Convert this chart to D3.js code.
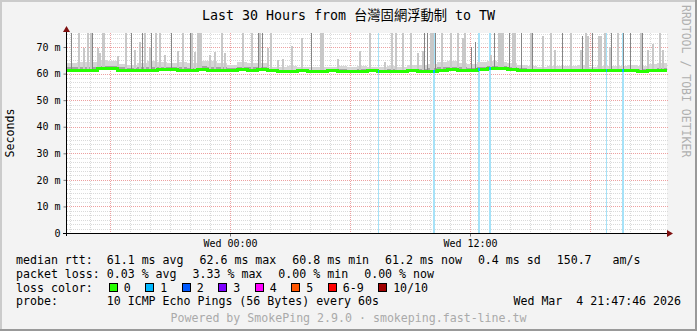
<!DOCTYPE html>
<html>
<head>
<meta charset="utf-8">
<script src="https://cdn.jsdelivr.net/npm/d3@7"></script>
<style>
body { margin: 0; background: #f3f3f3; }
svg { display: block; }
text { font-family: "DejaVu Sans Mono", "Noto Sans CJK TC", monospace; white-space: pre; }
</style>
</head>
<body>
<svg id="chart"></svg>
<script>
const W = 697, H = 331;
const plotLeft = 67, plotRight = 667, plotTop = 33, plotBottom = 233;

// time window (30 hours), steps are 30 minutes for the band data
const startTime = new Date(2026, 2, 3, 15, 51);
const endTime = new Date(2026, 2, 4, 21, 51);
const wedMidnight = new Date(2026, 2, 4, 0, 0);
const bandStepMin = 30;

// median rtt in ms, one value per 30 min
const medianRtt = [61.2,61.2,61.3,62.0,62.1,61.3,61.1,61.2,61.2,61.4,
                   61.6,61.3,61.1,61.7,61.2,61.3,61.2,61.4,61.3,61.4,
                   61.0,60.9,60.9,61.0,60.9,60.9,61.0,60.9,60.9,60.9,
                   61.0,60.9,60.9,60.9,61.0,60.9,60.9,61.0,61.4,61.3,
                   61.3,61.4,61.9,62.0,61.6,61.3,61.1,61.0,61.1,61.0,
                   61.0,61.1,61.0,61.1,61.0,61.1,61.0,60.9,61.0,61.1];
// upper edge of the light smoke
const smokeHigh = [63.8,64.2,64.5,65.0,64.8,63.6,63.4,63.8,64.6,64.2,
                   64.0,64.5,63.8,64.6,64.8,63.8,63.4,64.4,64.0,63.8,
                   62.6,62.4,62.8,62.5,62.3,62.6,62.4,62.7,62.5,62.8,
                   62.4,62.6,62.9,62.5,63.2,63.4,63.6,64.2,64.6,64.0,
                   63.6,64.2,64.8,64.5,63.8,63.2,62.8,62.6,63.0,62.7,
                   62.9,63.2,62.6,62.8,63.0,62.7,63.4,63.0,63.5,63.8];
// upper edge of the dark smoke
const smokeMid = [62.3,62.4,62.6,63.0,63.0,62.3,62.1,62.3,62.6,62.5,
                  62.6,62.6,62.2,62.8,62.5,62.4,62.1,62.6,62.4,62.4,
                  61.5,61.4,61.5,61.5,61.4,61.5,61.4,61.6,61.5,61.6,
                  61.5,61.5,61.6,61.5,61.8,61.9,62.0,62.3,62.6,62.3,
                  62.2,62.5,62.9,62.9,62.4,62.0,61.7,61.6,61.8,61.6,
                  61.7,61.8,61.6,61.7,61.8,61.6,61.9,61.7,61.9,62.0];

// smoke spikes: [hours from Wed 00:00, top in ms, dark]
const spikes = [
  [-7.95,76,1],[-7.62,76,0],[-7.37,69.6,0],[-7.14,76,0],[-6.99,76,0],[-6.9,76,1],
  [-6.65,69.6,0],[-6.55,67.7,0],[-6.4,76,0],[-6.35,76,0],[-5.65,66.6,0],[-5.24,76,0],
  [-4.95,76,1],[-4.82,69,0],[-4.54,72,0],[-4.4,76,1],[-4.29,76,0],[-4.04,69.6,0],
  [-3.95,76,1],[-3.74,76,0],[-3.54,76,0],[-3.32,67,0],[-2.95,76,1],[-2.65,68.5,0],
  [-2.4,76,0],[-2.02,76,1],[-1.94,76,0],[-1.82,68,0],[-1.65,76,0],[-1.55,76,0],
  [-1.48,76,0],[-1.07,67,0],[-0.82,68,0],[-0.44,76,0],[-0.32,67.7,0],[0.6,76,0],
  [1.05,76,0],[1.4,76,1],[1.47,76,0],[1.6,76,1],[1.85,69.6,0],[2.02,76,0],
  [2.35,65,0],[2.6,65.5,0],[3.05,70.4,0],[3.55,73.4,0],[4.05,76,1],[4.5,76,0],
  [4.6,76,0],[5.35,65.5,0],[6.44,68.5,0],[6.97,76,0],[7.69,64.5,0],[8.05,76,0],
  [8.27,76,0],[8.6,76,0],[9.02,76,0],[9.35,67.7,0],[9.6,68.5,0],[9.69,76,1],
  [9.85,76,1],[9.98,76,0],[10.08,76,0],[10.27,76,1],[10.57,76,0],[11.02,76,0],
  [11.35,76,0],[11.6,73.4,0],[11.69,76,0],[12.03,70,1],[12.25,72,1],[13.0,67,0],
  [13.19,76,1],[13.4,76,0],[13.5,76,0],[13.6,76,0],[13.94,76,1],[14.1,76,0],
  [14.19,76,0],[14.57,76,1],[15.02,76,0],[15.1,76,1],[15.6,74,0],[16.02,76,0],
  [16.19,69,0],[16.6,76,1],[17.02,76,0],[17.5,69,0],[17.6,74,1],[17.77,76,0],
  [17.85,74,0],[18.1,76,1],[18.4,74,0],[18.52,74,0],[18.69,76,0],[18.94,70,0],
  [19.07,76,1],[19.35,76,0],[19.65,76,1],[20.02,76,1],[20.5,76,0],[20.58,76,1],
  [20.85,69,0],[21.1,71,0],[21.45,76,0],[21.6,69,0]
];

// steps with 1/10 packet loss
const lossHours = [7.4, 10.17, 12.38, 12.93, 18.82, 19.6];
const lossSteps = [1, 2, 2, 2, 1, 2];

const yTicks = [0, 10, 20, 30, 40, 50, 60, 70];
const xLabelHours = [0, 12];

const rttStats = [61.1, 62.6, 60.8, 61.2];
const lossStats = [0.03, 3.33, 0.00, 0.00];
const statNames = ["avg", "max", "min", "now"];
const rttSd = 0.4, rttAms = 150.7;

const lossLabels = ["0", "1", "2", "3", "4", "5", "6-9", "10/10"];
const lossColors = ["#26ff00", "#00b8ff", "#0059ff", "#7e00ff", "#ff00ff", "#ff5500", "#ff0000", "#a10000"];

const hourToDate = h => new Date(wedMidnight.getTime() + h * 3600e3);
const stepDate = i => new Date(startTime.getTime() + i * bandStepMin * 60e3);

const x = d3.scaleTime().domain([startTime, endTime]).range([plotLeft, plotRight]);
const y = d3.scaleLinear().domain([0, 75.28]).range([plotBottom, plotTop]);

const svg = d3.select("#chart").attr("width", W).attr("height", H);
svg.append("rect").attr("width", W).attr("height", H).attr("fill", "#f3f3f3");
svg.append("rect").attr("width", W).attr("height", 2).attr("fill", "#cbcbcb");
svg.append("rect").attr("width", 2).attr("height", H).attr("fill", "#cbcbcb");
svg.append("rect").attr("y", H - 2).attr("width", W).attr("height", 2).attr("fill", "#999");
svg.append("rect").attr("x", W - 2).attr("width", 2).attr("height", H).attr("fill", "#999");

svg.append("defs").append("clipPath").attr("id", "plotclip")
  .append("rect").attr("x", plotLeft).attr("y", plotTop)
  .attr("width", plotRight - plotLeft).attr("height", plotBottom - plotTop);

svg.append("rect").attr("x", plotLeft).attr("y", plotTop)
  .attr("width", plotRight - plotLeft).attr("height", plotBottom - plotTop).attr("fill", "#fff");

// grid
const grid = svg.append("g").attr("shape-rendering", "crispEdges").attr("stroke-dasharray", "1,1");
const minorY = d3.range(0, 75.28, 10 / 6).filter(v => Math.abs(v / 10 - Math.round(v / 10)) > 0.01);
grid.selectAll(".hmin").data(minorY).enter().append("line")
  .attr("x1", plotLeft).attr("x2", plotRight + 1)
  .attr("y1", d => Math.round(y(d)) + 0.5).attr("y2", d => Math.round(y(d)) + 0.5)
  .attr("stroke", "#dadada");
const hours = d3.timeHour.range(startTime, endTime);
grid.selectAll(".vmin").data(hours.filter(d => d.getHours() % 6 !== 0)).enter().append("line")
  .attr("x1", d => Math.round(x(d)) + 0.5).attr("x2", d => Math.round(x(d)) + 0.5)
  .attr("y1", plotTop).attr("y2", plotBottom)
  .attr("stroke", "#dadada");
grid.selectAll(".hmaj").data(yTicks.slice(1)).enter().append("line")
  .attr("x1", plotLeft).attr("x2", plotRight + 1)
  .attr("y1", d => Math.round(y(d)) + 0.5).attr("y2", d => Math.round(y(d)) + 0.5)
  .attr("stroke", "#eda0a0");
grid.selectAll(".vmaj").data(hours.filter(d => d.getHours() % 6 === 0)).enter().append("line")
  .attr("x1", d => Math.round(x(d)) + 0.5).attr("x2", d => Math.round(x(d)) + 0.5)
  .attr("y1", plotTop).attr("y2", plotBottom)
  .attr("stroke", "#eda0a0");

const g = svg.append("g").attr("clip-path", "url(#plotclip)").attr("shape-rendering", "crispEdges");

// loss bars
g.selectAll(".lossbar").data(lossHours).enter().append("rect")
  .attr("x", d => Math.round(x(hourToDate(d))))
  .attr("width", (d, i) => lossSteps[i])
  .attr("y", plotTop).attr("height", plotBottom - plotTop)
  .attr("fill", "#a6e2f8");

// smoke band
const band = medianRtt.map((m, i) => ({t: stepDate(i), m: m, hi: smokeHigh[i], mid: smokeMid[i]}));
band.push(Object.assign({}, band[band.length - 1], {t: endTime}));
g.append("path").datum(band)
  .attr("d", d3.area().x(d => x(d.t)).y0(d => y(d.m)).y1(d => y(d.hi)).curve(d3.curveStepAfter))
  .attr("fill", "#d6d6d6");
g.append("path").datum(band)
  .attr("d", d3.area().x(d => x(d.t)).y0(d => y(d.m)).y1(d => y(d.mid)).curve(d3.curveStepAfter))
  .attr("fill", "#a4a4a4");

// spikes
g.selectAll(".spike").data(spikes).enter().append("rect")
  .attr("x", d => Math.round(x(hourToDate(d[0]))))
  .attr("width", d => d[2] ? 1 : 2)
  .attr("y", d => y(d[1]))
  .attr("height", d => y(61.5) - y(d[1]))
  .attr("fill", d => d[2] ? "#858585" : "#c8c8c8");

// median line
g.append("path").datum(band)
  .attr("d", d3.line().x(d => x(d.t)).y(d => y(d.m)).curve(d3.curveStepAfter))
  .attr("fill", "none").attr("stroke", lossColors[0]).attr("stroke-width", 3);
// median colored by loss
const medianAt = h => medianRtt[Math.min(medianRtt.length - 1,
  Math.floor((hourToDate(h) - startTime) / (bandStepMin * 60e3)))];
g.selectAll(".lossmed").data(lossHours).enter().append("rect")
  .attr("x", d => Math.round(x(hourToDate(d))))
  .attr("width", (d, i) => lossSteps[i])
  .attr("y", d => y(medianAt(d)) - 1.5).attr("height", 3)
  .attr("fill", lossColors[1]);

// axes
const yAxis = svg.append("g").attr("transform", `translate(${plotLeft - 0.5},0)`)
  .call(d3.axisLeft(y).tickValues(yTicks).tickSize(3).tickPadding(3)
    .tickFormat(d => d === 0 ? "0" : d + " m"));
yAxis.select(".domain").remove();
yAxis.selectAll("line").attr("stroke", "#777");
yAxis.selectAll("text").attr("font-size", 10).attr("font-family", "DejaVu Sans Mono").attr("fill", "#000");

const xAxis = svg.append("g").attr("transform", `translate(0,${plotBottom + 0.5})`)
  .call(d3.axisBottom(x).tickValues(xLabelHours.map(hourToDate)).tickSize(3).tickPadding(3)
    .tickFormat(d3.timeFormat("%a %H:%M")));
xAxis.select(".domain").remove();
xAxis.selectAll("line").attr("stroke", "#777");
xAxis.selectAll("text").attr("font-size", 10).attr("font-family", "DejaVu Sans Mono").attr("fill", "#000");

svg.append("line").attr("x1", plotLeft - 4).attr("x2", plotRight + 3)
  .attr("y1", plotBottom + 0.5).attr("y2", plotBottom + 0.5).attr("stroke", "#000");
svg.append("line").attr("x1", plotLeft - 0.5).attr("x2", plotLeft - 0.5)
  .attr("y1", plotBottom + 3).attr("y2", plotTop - 3).attr("stroke", "#000");
svg.append("path").attr("d", `M${plotRight},${plotBottom - 3} L${plotRight + 6},${plotBottom + 0.5} L${plotRight},${plotBottom + 4}Z`)
  .attr("fill", "#7f1010");
svg.append("path").attr("d", `M${plotLeft - 4},${plotTop - 1} L${plotLeft - 0.5},${plotTop - 7} L${plotLeft + 3},${plotTop - 1}Z`)
  .attr("fill", "#7f1010");

// titles
svg.append("text").attr("x", 348.5).attr("y", 20).attr("text-anchor", "middle")
  .attr("font-size", 13.3).attr("fill", "#000")
  .text("Last 30 Hours from 台灣固網浮動制 to TW");
svg.append("text").attr("transform", "translate(14,133) rotate(-90)").attr("text-anchor", "middle")
  .attr("font-size", 11.6).attr("fill", "#000").text("Seconds");
svg.append("text").attr("transform", "translate(682,5) rotate(90)")
  .attr("font-size", 11.5).attr("fill", "#b0b0b0").text("RRDTOOL / TOBI OETIKER");

// legend
const legendFont = 11.6, legendGap = 16, legendX = 16;
const rowY = [264.3, 277.8, 291.6, 305.3];
function textWidth(s) {
  const t = svg.append("text").attr("font-size", legendFont).text(s);
  const w = t.node().getComputedTextLength();
  t.remove();
  return w;
}
function legendRow(items, yy) {
  let cx = legendX;
  items.forEach(function(s) {
    svg.append("text").attr("x", cx).attr("y", yy).attr("font-size", legendFont).attr("fill", "#000").text(s);
    cx += textWidth(s) + legendGap;
  });
}
const f1 = d3.format(".1f"), f2 = d3.format(".2f");
legendRow(rttStats.map((v, i) => (i === 0 ? "median rtt:  " : "") + f1(v) + " ms " + statNames[i])
  .concat([f1(rttSd) + " ms sd", f1(rttAms) + "   am/s"]), rowY[0]);
legendRow(lossStats.map((v, i) => (i === 0 ? "packet loss: " : "") + f2(v) + " % " + statNames[i]), rowY[1]);

let lx = legendX;
svg.append("text").attr("x", lx).attr("y", rowY[2]).attr("font-size", legendFont).text("loss color:");
lx += textWidth("loss color:") + legendGap;
lossLabels.forEach(function(lab, i) {
  svg.append("rect").attr("x", lx + 0.5).attr("y", rowY[2] - 8.5).attr("width", 8).attr("height", 8)
    .attr("fill", lossColors[i]).attr("stroke", "#000").attr("shape-rendering", "crispEdges");
  svg.append("text").attr("x", lx + 15).attr("y", rowY[2]).attr("font-size", legendFont).text(lab);
  lx += 15 + textWidth(lab) + 14.5;
});

svg.append("text").attr("x", legendX).attr("y", rowY[3]).attr("font-size", legendFont)
  .text("probe:       10 ICMP Echo Pings (56 Bytes) every 60s");
svg.append("text").attr("x", 681).attr("y", rowY[3]).attr("font-size", legendFont).attr("text-anchor", "end")
  .text("Wed Mar  4 21:47:46 2026");
svg.append("text").attr("x", 348.5).attr("y", 322).attr("font-size", legendFont).attr("text-anchor", "middle")
  .attr("fill", "#aaa").text("Powered by SmokePing 2.9.0 · smokeping.fast-line.tw");
</script>
</body>
</html>
